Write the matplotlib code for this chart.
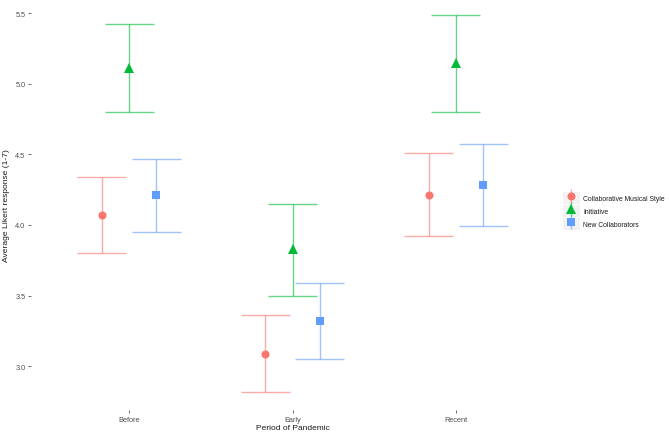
import matplotlib
matplotlib.use("Agg")
import matplotlib.pyplot as plt
from matplotlib.lines import Line2D
from matplotlib.patches import Patch
from matplotlib.legend_handler import HandlerTuple
import numpy as np

plt.rcParams['font.family'] = ['Liberation Sans', 'DejaVu Sans']

periods = ["Before", "Early", "Recent"]
series = ["Collaborative Musical Style", "Initiative", "New Collaborators"]
means = {
    "Collaborative Musical Style": [4.07, 3.09, 4.21],
    "Initiative": [5.11, 3.83, 5.15],
    "New Collaborators": [4.21, 3.32, 4.28],
}
lower = {
    "Collaborative Musical Style": [3.80, 2.82, 3.92],
    "Initiative": [4.80, 3.50, 4.80],
    "New Collaborators": [3.95, 3.05, 3.99],
}
upper = {
    "Collaborative Musical Style": [4.34, 3.36, 4.51],
    "Initiative": [5.42, 4.15, 5.49],
    "New Collaborators": [4.47, 3.59, 4.57],
}
colors = ["#F8766D", "#00BA38", "#619CFF"]
markers = ["o", "^", "s"]
msizes = [5.8, 7.0, 5.6]
yticks = [3.0, 3.5, 4.0, 4.5, 5.0, 5.5]

W, H = 669, 439
fig = plt.figure(figsize=(W / 100, H / 100), dpi=100)
ax = fig.add_axes([31 / W, (H - 411) / H, 523 / W, 411 / H])

dodge = [-1 / 6, 0, 1 / 6]
capw = 0.15
xbase = np.arange(1, len(periods) + 1)
handles = []
for i, s in enumerate(series):
    x = xbase + dodge[i]
    lo = np.array(lower[s]); hi = np.array(upper[s]); m = np.array(means[s])
    ax.vlines(x, lo, hi, color=colors[i], alpha=0.6, lw=1.0)
    ax.hlines(lo, x - capw, x + capw, color=colors[i], alpha=0.6, lw=1.0)
    ax.hlines(hi, x - capw, x + capw, color=colors[i], alpha=0.6, lw=1.0)
    ax.plot(x, m, linestyle="none", marker=markers[i], color=colors[i],
            markersize=msizes[i], markeredgewidth=0, zorder=5)
    handles.append((Patch(facecolor="#F2F2F2", edgecolor="none"),
                    Line2D([], [], marker="|", color=colors[i], markersize=10,
                           linestyle="none", alpha=0.6),
                    Line2D([], [], marker=markers[i], color=colors[i],
                           markersize=msizes[i], markeredgewidth=0,
                           linestyle="none")))

ax.set_xlim(0.4, 3.6)
ax.set_ylim(2.69, 5.60)
ax.set_xticks(xbase)
ax.set_xticklabels(periods)
ax.set_yticks(yticks)
ax.set_yticklabels([f"{v:.1f}" for v in yticks])
for sp in ax.spines.values():
    sp.set_visible(False)
ax.tick_params(axis="both", colors="#333333", labelcolor="#4D4D4D",
               labelsize=5.3, length=2.0, width=0.5, pad=2)
ax.set_xlabel("Period of Pandemic", fontsize=6.0, color="#1A1A1A", labelpad=1)
ax.set_ylabel("Average Likert response (1-7)", fontsize=6.1, color="#1A1A1A")
ax.yaxis.set_label_coords(-21 / 523, 0.5)

leg = fig.legend(handles, series, loc="center left",
                 bbox_to_anchor=(558 / W, 1 - 212 / H),
                 handler_map={tuple: HandlerTuple(ndivide=1, pad=0)},
                 frameon=False, fontsize=4.9, handlelength=2.5, handleheight=2.3,
                 handletextpad=0.5, labelspacing=0.2, borderpad=0.2)
for t in leg.get_texts():
    t.set_color("#1A1A1A")

fig.savefig("out.png", dpi=100)
